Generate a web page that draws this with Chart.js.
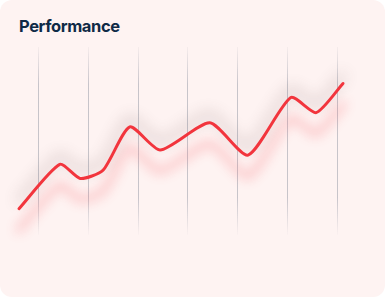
<!DOCTYPE html>
<html>
<head>
<meta charset="utf-8">
<script src="https://cdn.jsdelivr.net/npm/chart.js@4"></script>
<style>
  html, body { margin: 0; padding: 0; background: #ffffff; }
  #card { position: relative; width: 385px; height: 297px; background: #fef3f2; border-radius: 12px; overflow: hidden; }
  #title { position: absolute; left: 19px; top: 16px; font-family: Inter, "Noto Sans", sans-serif; font-weight: 700; font-size: 16.5px; color: #0f2a46; letter-spacing: -0.4px; }
  canvas { position: absolute; left: 0; top: 0; }
</style>
</head>
<body>
<div id="card">
  <div id="title">Performance</div>
  <canvas id="c" width="385" height="297"></canvas>
</div>
<script>
const titleText = "Performance";
const xValues = [0.60, 1.42, 1.83, 2.29, 2.83, 3.44, 4.44, 5.21, 6.07, 6.58, 7.12];
const yValues = [14.0, 37.6, 30.1, 34.4, 57.5, 45.2, 59.7, 42.5, 73.1, 65.1, 80.6];
const gridTicks = [1, 2, 3, 4, 5, 6, 7];

document.getElementById('title').textContent = titleText;

const points = xValues.map((x, i) => ({ x: x, y: yValues[i] }));

const OFF = 2000;
const shadowPlugin = {
  id: 'shadowPlugin',
  beforeDatasetDraw(chart, args) {
    const ctx = chart.ctx;
    ctx.save();
    if (args.index === 0) {
      ctx.translate(0, -OFF);
      ctx.shadowColor = 'rgba(90,70,70,0.33)';
      ctx.shadowBlur = 15;
      ctx.shadowOffsetX = 0;
      ctx.shadowOffsetY = OFF - 8;
    } else if (args.index === 1) {
      ctx.translate(0, -OFF);
      ctx.shadowColor = 'rgba(245,80,90,0.32)';
      ctx.shadowBlur = 12;
      ctx.shadowOffsetX = 0;
      ctx.shadowOffsetY = OFF + 21;
    }
  },
  afterDatasetDraw(chart) {
    chart.ctx.restore();
  }
};

function gridGradient(context) {
  const chart = context.chart;
  const a = chart.chartArea;
  if (!a) return 'rgba(180,180,190,0.6)';
  const g = chart.ctx.createLinearGradient(0, a.top, 0, a.bottom);
  g.addColorStop(0, 'rgba(175,175,185,0.1)');
  g.addColorStop(0.2, 'rgba(175,175,185,0.7)');
  g.addColorStop(0.8, 'rgba(175,175,185,0.7)');
  g.addColorStop(1, 'rgba(175,175,185,0.03)');
  return g;
}

const common = { data: points, tension: 0.22, pointRadius: 0, fill: false, clip: false, borderCapStyle: 'round', borderJoinStyle: 'round' };

new Chart(document.getElementById('c'), {
  type: 'line',
  data: {
    datasets: [
      Object.assign({}, common, { borderColor: '#000000', borderWidth: 4, order: 3 }),
      Object.assign({}, common, { borderColor: '#f2323b', borderWidth: 6, order: 2 }),
      Object.assign({}, common, { borderColor: '#f2353d', borderWidth: 3, order: 1 })
    ]
  },
  options: {
    responsive: false,
    animation: false,
    events: [],
    layout: { padding: { left: 19, right: 42, top: 47, bottom: 62 } },
    plugins: { legend: { display: false }, tooltip: { enabled: false }, title: { display: false } },
    scales: {
      x: {
        type: 'linear',
        min: 0.60,
        max: 7.12,
        afterBuildTicks(scale) { scale.ticks = gridTicks.map(v => ({ value: v })); },
        ticks: { display: false },
        border: { display: false },
        grid: { color: gridGradient, lineWidth: 1, drawTicks: false }
      },
      y: {
        display: false,
        min: 0,
        max: 100
      }
    }
  },
  plugins: [shadowPlugin]
});
</script>
</body>
</html>
